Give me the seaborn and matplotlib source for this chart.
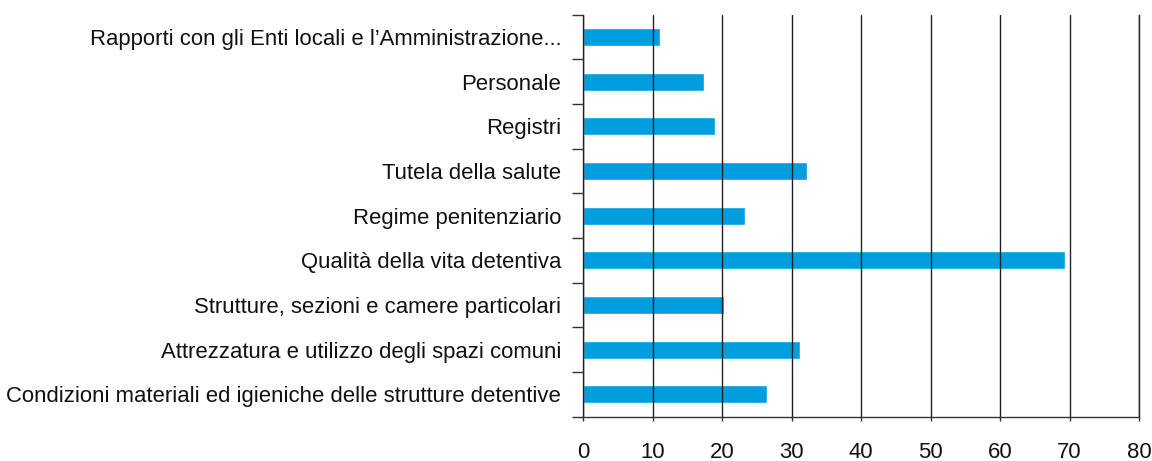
import matplotlib
matplotlib.use("Agg")
import matplotlib.pyplot as plt
import seaborn as sns
import pandas as pd
from matplotlib.ticker import FixedLocator

# dati
categorie = [
    "Rapporti con gli Enti locali e l\u2019Amministrazione...",
    "Personale",
    "Registri",
    "Tutela della salute",
    "Regime penitenziario",
    "Qualità della vita detentiva",
    "Strutture, sezioni e camere particolari",
    "Attrezzatura e utilizzo degli spazi comuni",
    "Condizioni materiali ed igieniche delle strutture detentive",
]
valori = [11.0, 17.4, 19.0, 32.2, 23.3, 69.3, 20.2, 31.2, 26.4]
tick_x = [0, 10, 20, 30, 40, 50, 60, 70, 80]

df = pd.DataFrame({"categoria": categorie, "valore": valori})

sns.set_style("white")
plt.rcParams["font.family"] = ["Liberation Sans", "DejaVu Sans"]

fig = plt.figure(figsize=(11.52, 4.61), dpi=100)
ax = fig.add_axes([0.5064, 0.0961, 0.9887 - 0.5064, 0.968 - 0.0961])

sns.barplot(data=df, x="valore", y="categoria", orient="h", color="#009ddf",
            saturation=1, width=0.4, ax=ax)

ax.set_xlim(0, 80)
ax.set_ylim(len(categorie) - 0.5, -0.5)
ax.set_xticks(tick_x)
ax.set_xticklabels([str(t) for t in tick_x])
ax.set_xlabel("")
ax.set_ylabel("")

# griglia verticale sopra le barre
ax.set_axisbelow(False)
ax.grid(axis="x", color="#222222", linewidth=1.0)
ax.grid(axis="y", visible=False)

ax.spines["top"].set_visible(False)
ax.spines["right"].set_visible(True)
ax.spines["right"].set_color("#222222")
for lato in ["left", "bottom", "right"]:
    ax.spines[lato].set_linewidth(1.0)
ax.spines["left"].set_color("#333333")
ax.spines["bottom"].set_color("#333333")

# tacche sull'asse y tra le categorie
ax.yaxis.set_minor_locator(FixedLocator([i - 0.5 for i in range(len(categorie) + 1)]))
ax.tick_params(axis="y", which="major", length=0, pad=16, labelsize=15.9, colors="#111111")
ax.tick_params(axis="y", which="minor", length=8, width=1.0, color="#333333", left=True)
ax.tick_params(axis="x", which="major", length=3, width=1.0, color="#333333",
               pad=15, labelsize=15.9, labelcolor="#111111", bottom=True)

fig.savefig("out.png", dpi=100)
